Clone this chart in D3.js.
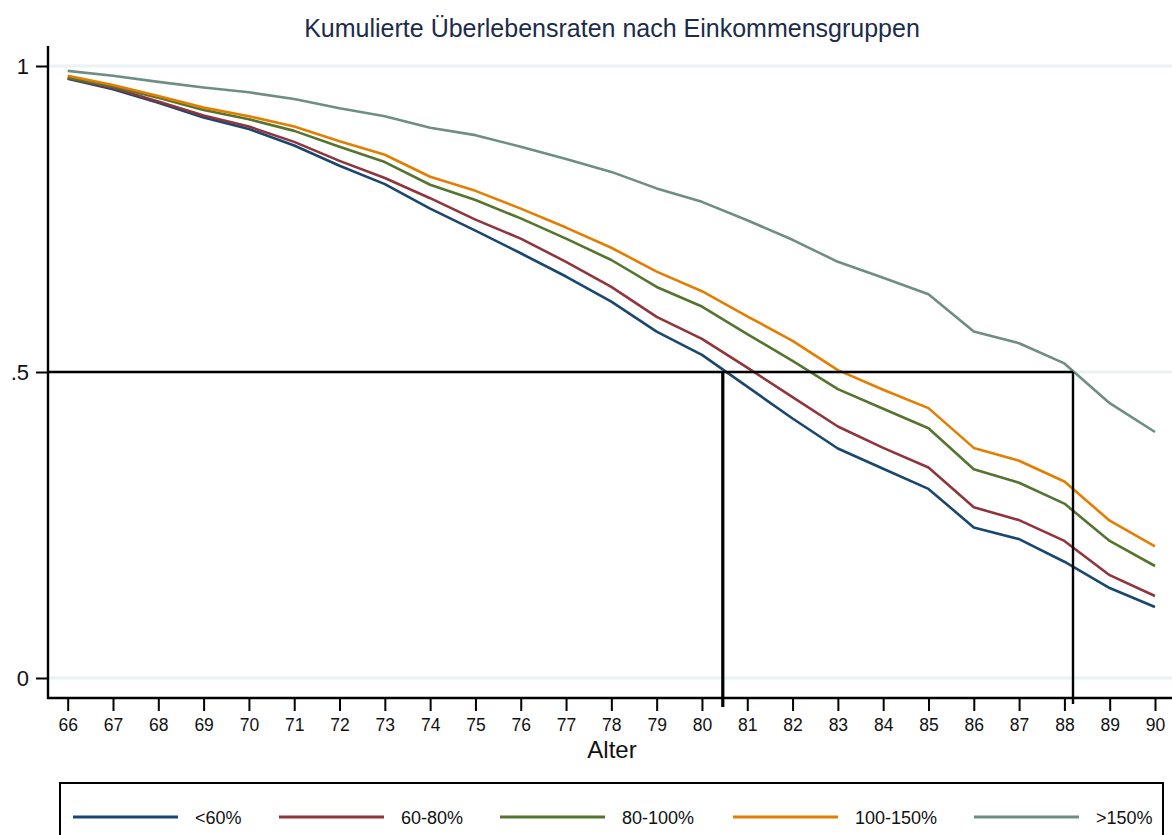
<!DOCTYPE html>
<html>
<head>
<meta charset="utf-8">
<script src="https://cdn.jsdelivr.net/npm/d3@7/dist/d3.min.js"></script>
<style>
  body { margin: 0; background: #fff; }
  svg { display: block; font-family: "Liberation Sans", Arial, sans-serif; }
</style>
</head>
<body>
<div id="chart"></div>
<script>

// ages on the x axis
var ages = [66, 67, 68, 69, 70, 71, 72, 73, 74, 75, 76, 77, 78, 79, 80, 81, 82, 83, 84, 85, 86, 87, 88, 89, 90];

// income groups (legend order)
var groups = ['<60%', '60-80%', '80-100%', '100-150%', '>150%'];

// cumulative survival per group
var survLow = [0.979, 0.962, 0.940, 0.916, 0.897, 0.870, 0.837, 0.807, 0.767, 0.731, 0.694, 0.656, 0.615, 0.566, 0.528, 0.476, 0.424, 0.375, 0.342, 0.309, 0.246, 0.227, 0.190, 0.147, 0.116];
var surv60 = [0.980, 0.964, 0.942, 0.919, 0.901, 0.876, 0.845, 0.817, 0.784, 0.749, 0.718, 0.680, 0.639, 0.590, 0.554, 0.507, 0.459, 0.411, 0.376, 0.344, 0.279, 0.258, 0.224, 0.168, 0.134];
var surv80 = [0.981, 0.966, 0.948, 0.928, 0.913, 0.894, 0.868, 0.843, 0.806, 0.781, 0.751, 0.718, 0.683, 0.639, 0.607, 0.562, 0.518, 0.472, 0.440, 0.408, 0.341, 0.319, 0.285, 0.224, 0.183];
var surv100 = [0.984, 0.969, 0.951, 0.932, 0.918, 0.901, 0.877, 0.855, 0.819, 0.796, 0.767, 0.736, 0.703, 0.664, 0.632, 0.591, 0.551, 0.503, 0.471, 0.441, 0.376, 0.355, 0.321, 0.257, 0.215];
var surv150 = [0.992, 0.984, 0.974, 0.965, 0.957, 0.946, 0.931, 0.918, 0.899, 0.887, 0.868, 0.848, 0.827, 0.800, 0.778, 0.748, 0.716, 0.680, 0.654, 0.627, 0.566, 0.547, 0.514, 0.449, 0.402];

// y ticks and their stata style labels
var yTicks = [0, 0.5, 1];
var yTickLabels = ['0', '.5', '1'];

// median ages where the lowest and highest group cross .5
var medianAges = [80.46, 88.19];
var medianLevel = 0.5;

var titleText = 'Kumulierte Überlebensraten nach Einkommensgruppen';
var xTitle = 'Alter';

// stata s2color palette
var colors = ['#1a476f', '#90353b', '#55752f', '#e37e00', '#6e8e84'];

var series = [survLow, surv60, surv80, surv100, surv150];

var width = 1172, height = 835;

var svg = d3.select('#chart').append('svg')
  .attr('width', width)
  .attr('height', height);

// plot frame
var plotLeft = 48, plotRight = 1172, plotTop = 46, plotBottom = 698;

var x = d3.scaleLinear().domain([66, 90]).range([67.7, 1155]);
var y = d3.scaleLinear().domain([0, 1]).range([678, 66]);

// title
svg.append('text')
  .attr('x', 612)
  .attr('y', 37)
  .attr('text-anchor', 'middle')
  .attr('font-size', 25)
  .attr('fill', '#1c2b4a')
  .text(titleText);

// light gridlines
svg.append('g').selectAll('line')
  .data(yTicks)
  .enter().append('line')
    .attr('x1', plotLeft)
    .attr('x2', plotRight)
    .attr('y1', function(d) { return y(d); })
    .attr('y2', function(d) { return y(d); })
    .attr('stroke', '#eaf2f3')
    .attr('stroke-width', 3);

// survival lines
var line = d3.line()
  .x(function(d, i) { return x(ages[i]); })
  .y(function(d) { return y(d); });

svg.append('g').selectAll('path')
  .data(series)
  .enter().append('path')
    .attr('d', line)
    .attr('fill', 'none')
    .attr('stroke', function(d, i) { return colors[i]; })
    .attr('stroke-width', 2.6)
    .attr('stroke-linejoin', 'round');

// reference lines at .5
svg.append('line')
  .attr('x1', plotLeft)
  .attr('x2', x(medianAges[1]))
  .attr('y1', y(medianLevel))
  .attr('y2', y(medianLevel))
  .attr('stroke', '#000')
  .attr('stroke-width', 2.4);

svg.append('g').selectAll('line')
  .data(medianAges)
  .enter().append('line')
    .attr('x1', function(d) { return x(d); })
    .attr('x2', function(d) { return x(d); })
    .attr('y1', y(medianLevel))
    .attr('y2', function(d, i) { return i === 0 ? 707 : 704; })
    .attr('stroke', '#000')
    .attr('stroke-width', function(d, i) { return i === 0 ? 3.2 : 2.4; });

// axes
var xAxis = d3.axisBottom(x)
  .tickValues(ages)
  .tickFormat(d3.format('d'))
  .tickSize(13)
  .tickPadding(8);

var gx = svg.append('g')
  .attr('transform', 'translate(0,' + plotBottom + ')')
  .call(xAxis);
gx.select('.domain').remove();
gx.selectAll('line').attr('stroke', '#000').attr('stroke-width', 2);
gx.selectAll('text').attr('font-size', 17.5).attr('fill', '#111').attr('font-family', null);

var yAxis = d3.axisLeft(y)
  .tickValues(yTicks)
  .tickFormat(function(d, i) { return yTickLabels[i]; })
  .tickSize(12)
  .tickPadding(7);

var gy = svg.append('g')
  .attr('transform', 'translate(' + plotLeft + ',0)')
  .call(yAxis);
gy.select('.domain').remove();
gy.selectAll('line').attr('stroke', '#000').attr('stroke-width', 2);
gy.selectAll('text').attr('font-size', 22).attr('fill', '#111').attr('font-family', null);

// axis lines
svg.append('line')
  .attr('x1', plotLeft).attr('x2', plotLeft)
  .attr('y1', plotTop).attr('y2', plotBottom + 1)
  .attr('stroke', '#000').attr('stroke-width', 2.4);

svg.append('line')
  .attr('x1', plotLeft - 1).attr('x2', plotRight)
  .attr('y1', plotBottom).attr('y2', plotBottom)
  .attr('stroke', '#000').attr('stroke-width', 2.4);

// x title
svg.append('text')
  .attr('x', 612)
  .attr('y', 758)
  .attr('text-anchor', 'middle')
  .attr('font-size', 24)
  .attr('fill', '#111')
  .text(xTitle);

// legend box
svg.append('rect')
  .attr('x', 60)
  .attr('y', 783)
  .attr('width', 1103)
  .attr('height', 70)
  .attr('fill', '#fff')
  .attr('stroke', '#000')
  .attr('stroke-width', 2);

var legendX = [73, 279, 500, 733, 974];

var legend = svg.append('g').selectAll('g')
  .data(groups)
  .enter().append('g')
    .attr('transform', function(d, i) { return 'translate(' + legendX[i] + ',817)'; });

legend.append('line')
  .attr('x1', 0).attr('x2', 105)
  .attr('y1', 0).attr('y2', 0)
  .attr('stroke', function(d, i) { return colors[i]; })
  .attr('stroke-width', 3);

legend.append('text')
  .attr('x', 122)
  .attr('y', 6.5)
  .attr('font-size', 18)
  .attr('fill', '#111')
  .text(function(d) { return d; });

</script>
</body>
</html>
